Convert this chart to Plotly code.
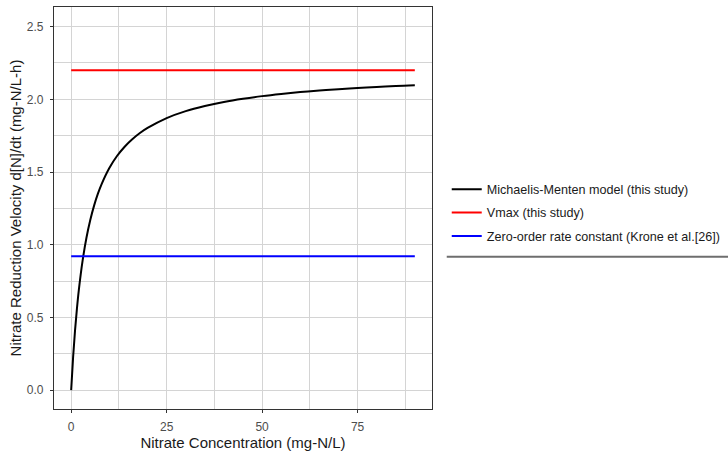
import plotly.graph_objects as go

# Nitrate concentration (mg-N/L) and the fitted Michaelis-Menten velocity (mg-N/L-h)
conc = [0, 0.5, 1, 1.5, 2, 3, 4, 5, 6, 7, 8, 10, 12, 14, 16, 18, 20, 25, 30, 35,
        40, 45, 50, 55, 60, 65, 70, 75, 80, 85, 90]
velocity = [0.0, 0.224, 0.407, 0.559, 0.688, 0.892, 1.048, 1.170, 1.269, 1.351,
            1.419, 1.528, 1.610, 1.674, 1.725, 1.768, 1.803, 1.871, 1.919, 1.954,
            1.982, 2.004, 2.022, 2.037, 2.050, 2.061, 2.070, 2.078, 2.085, 2.092,
            2.097]

# Reference rates drawn as flat lines across the concentration range
conc_span = [0, 90]
vmax = 2.2
zero_order_k = 0.92

x_ticks = [0, 25, 50, 75]
y_ticks = [0.0, 0.5, 1.0, 1.5, 2.0, 2.5]

FONT = "Liberation Sans, Arial, sans-serif"
GRID = "#d4d4d4"
BORDER = "#333333"

fig = go.Figure()
fig.add_trace(go.Scatter(
    x=conc, y=velocity, mode="lines", line=dict(color="black", width=2, shape="spline"),
    name="Michaelis-Menten model (this study)", legendgroup="a"))
fig.add_trace(go.Scatter(
    x=conc_span, y=[vmax, vmax], mode="lines", line=dict(color="#ff0000", width=2),
    name="Vmax (this study)", legendgroup="b"))
fig.add_trace(go.Scatter(
    x=conc_span, y=[zero_order_k, zero_order_k], mode="lines", line=dict(color="#0000ff", width=2),
    name="Zero-order rate constant (Krone et al.[26])", legendgroup="c"))

axis_common = dict(
    showgrid=True, gridcolor=GRID, gridwidth=1,
    minor=dict(showgrid=True, gridcolor=GRID, gridwidth=1),
    showline=True, linecolor=BORDER, linewidth=1.2, mirror=True,
    ticks="outside", ticklen=3, tickcolor=BORDER, tickwidth=1,
    tickfont=dict(family=FONT, size=12, color="#4d4d4d"),
    zeroline=False, automargin=False,
)

fig.update_xaxes(
    range=[-4.5, 94.5], tickvals=x_ticks,
    minor_tickvals=[12.5, 37.5, 62.5, 87.5],
    ticklabelstandoff=3,
    title=dict(text="Nitrate Concentration (mg-N/L)", font=dict(family=FONT, size=15, color="#1a1a1a"), standoff=2),
    **axis_common)
fig.update_yaxes(
    range=[-0.13, 2.635], tickvals=y_ticks, tickformat=".1f",
    minor_tickvals=[0.25, 0.75, 1.25, 1.75, 2.25],
    ticklabelstandoff=4,
    title=dict(text="Nitrate Reduction Velocity d[N]/dt (mg-N/L-h)", font=dict(family=FONT, size=15, color="#1a1a1a"), standoff=1),
    **axis_common)

# rule under the legend block
fig.add_shape(type="line", xref="paper", yref="paper",
              x0=1.039, x1=1.79, y0=0.379, y1=0.379,
              line=dict(color="#6e6e6e", width=2))

fig.update_layout(
    width=728, height=453,
    margin=dict(l=54, r=296, t=7, b=44, autoexpand=False),
    plot_bgcolor="white", paper_bgcolor="white",
    font=dict(family=FONT),
    legend=dict(
        x=1.039, xanchor="left", y=0.4876, yanchor="middle",
        font=dict(family=FONT, size=12.6, color="#1a1a1a"),
        traceorder="grouped", tracegroupgap=4,
        bgcolor="rgba(0,0,0,0)", borderwidth=0,
    ),
    showlegend=True,
)

fig.write_html("out.html")
